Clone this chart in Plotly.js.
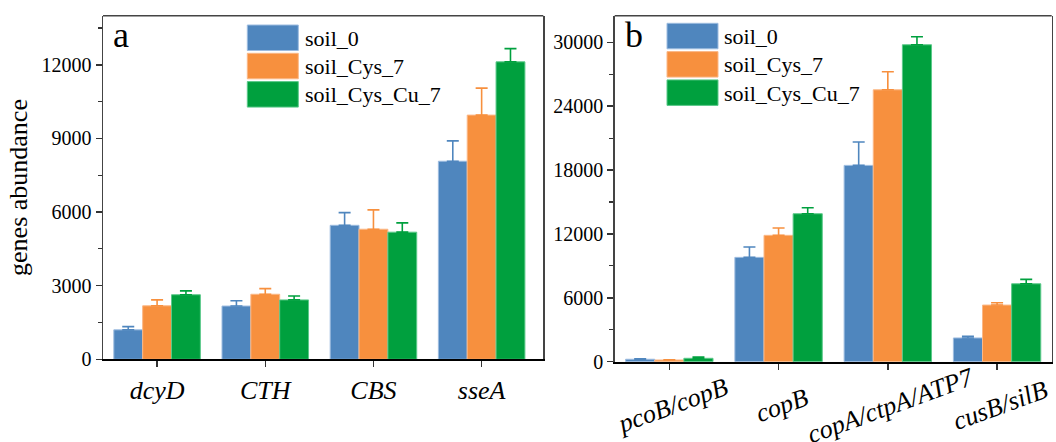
<!DOCTYPE html>
<html>
<head>
<meta charset="utf-8">
<script src="https://cdn.plot.ly/plotly-3.0.1.min.js"></script>
<style>
html,body{margin:0;padding:0;background:#fff;}
#chart{width:1056px;height:442px;}
</style>
</head>
<body>
<div id="chart"></div>
<script>
// ---------- data ----------
const seriesNames = ['soil_0', 'soil_Cys_7', 'soil_Cys_Cu_7'];
const categoriesA = ['dcyD', 'CTH', 'CBS', 'sseA'];
const categoriesB = ['pcoB/copB', 'copB', 'copA/ctpA/ATP7', 'cusB/silB'];

const soil0A    = [1200, 2170, 5460, 8070];
const soil0AErr = [130, 215, 515, 830];
const cysA      = [2180, 2650, 5300, 9950];
const cysAErr   = [240, 230, 790, 1100];
const cuA       = [2630, 2420, 5180, 12120];
const cuAErr    = [160, 160, 380, 540];

const soil0B    = [230, 9800, 18440, 2230];
const soil0BErr = [40, 970, 2190, 160];
const cysB      = [160, 11870, 25540, 5320];
const cysBErr   = [20, 690, 1690, 220];
const cuB       = [320, 13900, 29770, 7320];
const cuBErr    = [120, 560, 750, 410];

const yTicksA = [0, 3000, 6000, 9000, 12000];
const yTicksB = [0, 6000, 12000, 18000, 24000, 30000];

// ---------- style ----------
const FONT = "Liberation Serif";
const fills = ['#4F86BE', '#F7903E', '#00A03E'];
const edges = ['#9DBCE0', '#FBB887', '#5CC98A'];
const W = 1056, H = 442;
const px = x => x / W;
const py = y => (H - y) / H;

function bar(xa, ya, cats, vals, errs, i) {
  return {
    type: 'bar', x: cats, y: vals, name: seriesNames[i], xaxis: xa, yaxis: ya,
    showlegend: false,
    marker: {color: fills[i], line: {color: edges[i], width: 1}},
    error_y: {type: 'data', symmetric: false, array: errs, arrayminus: errs.map(() => 0),
              color: fills[i], thickness: 1.6, width: 6},
    hoverinfo: 'x+y'
  };
}

const data = [
  bar('x', 'y', categoriesA, soil0A, soil0AErr, 0),
  bar('x', 'y', categoriesA, cysA, cysAErr, 1),
  bar('x', 'y', categoriesA, cuA, cuAErr, 2),
  bar('x2', 'y2', categoriesB, soil0B, soil0BErr, 0),
  bar('x2', 'y2', categoriesB, cysB, cysBErr, 1),
  bar('x2', 'y2', categoriesB, cuB, cuBErr, 2)
];

const xDomA = [px(103), px(543.3)];
const xDomB = [px(614.7), px(1051.7)];
const yDomA = [py(359.3), py(15.7)];
const yDomB = [py(361.7), py(15.7)];

function yAxis(domain, anchor, range, ticks, minorStep) {
  return {
    domain: domain, anchor: anchor, range: range,
    tickmode: 'array', tickvals: ticks, ticktext: ticks.map(String),
    ticks: 'outside', ticklen: 6, tickwidth: 1.5, tickcolor: '#333',
    minor: {tickmode: 'linear', tick0: 0, dtick: minorStep, ticks: 'outside', ticklen: 4, tickwidth: 1.2, tickcolor: '#333', showgrid: false},
    showline: true, linecolor: '#444', linewidth: 1.5, mirror: true,
    showgrid: false, zeroline: false,
    tickfont: {family: FONT, size: 20, color: '#000'}
  };
}

const layout = {
  width: W, height: H,
  margin: {l: 0, r: 0, t: 0, b: 0, autoexpand: false},
  paper_bgcolor: '#fff', plot_bgcolor: '#fff',
  showlegend: false,
  barmode: 'group', bargap: 0.2, bargroupgap: 0,
  font: {family: FONT, size: 20, color: '#000'},
  xaxis: {
    domain: xDomA, anchor: 'y', type: 'category', range: [-0.5, 3.57],
    showline: true, linecolor: '#000', linewidth: 2,
    ticks: 'outside', ticklen: 6, tickwidth: 1.5, tickcolor: '#333',
    showgrid: false, zeroline: false,
    tickfont: {family: FONT, size: 26, style: 'italic', color: '#000'}
  },
  yaxis: Object.assign(yAxis(yDomA, 'x', [0, 14000], yTicksA, 1500), {
    title: {text: 'genes abundance', font: {family: FONT, size: 26, color: '#000'}, standoff: 6}
  }),
  xaxis2: {
    domain: xDomB, anchor: 'y2', type: 'category', range: [-0.5, 3.5],
    showline: true, linecolor: '#000', linewidth: 2,
    ticks: 'outside', ticklen: 6, tickwidth: 1.5, tickcolor: '#333',
    showgrid: false, zeroline: false, showticklabels: false
  },
  yaxis2: yAxis(yDomB, 'x2', [0, 32500], yTicksB, 3000),
  shapes: [],
  annotations: []
};

// top frame lines
[['x', 'y'], ['x2', 'y2']].forEach(([xa, ya]) => {
  layout.shapes.push({type: 'line', xref: xa + ' domain', yref: ya + ' domain',
    x0: 0, x1: 1, y0: 1, y1: 1, line: {color: '#444', width: 1.5}});
});

// rotated category labels for panel b
categoriesB.forEach((c, i) => {
  layout.annotations.push({
    xref: 'x2', yref: 'paper', x: i, y: py(405), text: c, showarrow: false,
    textangle: -20, xanchor: 'center', yanchor: 'middle', xshift: 3,
    font: {family: FONT, size: 26, style: 'italic', color: '#000'}
  });
});

// panel letters
layout.annotations.push({xref: 'paper', yref: 'paper', x: px(120.5), y: py(35), text: 'a', showarrow: false,
  xanchor: 'center', yanchor: 'middle', font: {family: FONT, size: 36, color: '#000'}});
layout.annotations.push({xref: 'paper', yref: 'paper', x: px(634), y: py(35), text: 'b', showarrow: false,
  xanchor: 'center', yanchor: 'middle', font: {family: FONT, size: 36, color: '#000'}});

// custom legends (big swatches)
function legend(x0, top, textX) {
  seriesNames.forEach((n, i) => {
    const t = top + i * 28.3, b = t + 25.5;
    layout.shapes.push({type: 'rect', xref: 'paper', yref: 'paper',
      x0: px(x0), x1: px(x0 + 51), y0: py(b), y1: py(t),
      fillcolor: fills[i], line: {color: edges[i], width: 1}});
    layout.annotations.push({xref: 'paper', yref: 'paper', x: px(textX), y: py((t + b) / 2 + 0.5),
      text: n, showarrow: false, xanchor: 'left', yanchor: 'middle',
      font: {family: FONT, size: 22, color: '#000'}});
  });
}
legend(247.3, 25, 303);
legend(667, 23.3, 722);

Plotly.newPlot('chart', data, layout, {displayModeBar: false, staticPlot: true});
</script>
</body>
</html>
